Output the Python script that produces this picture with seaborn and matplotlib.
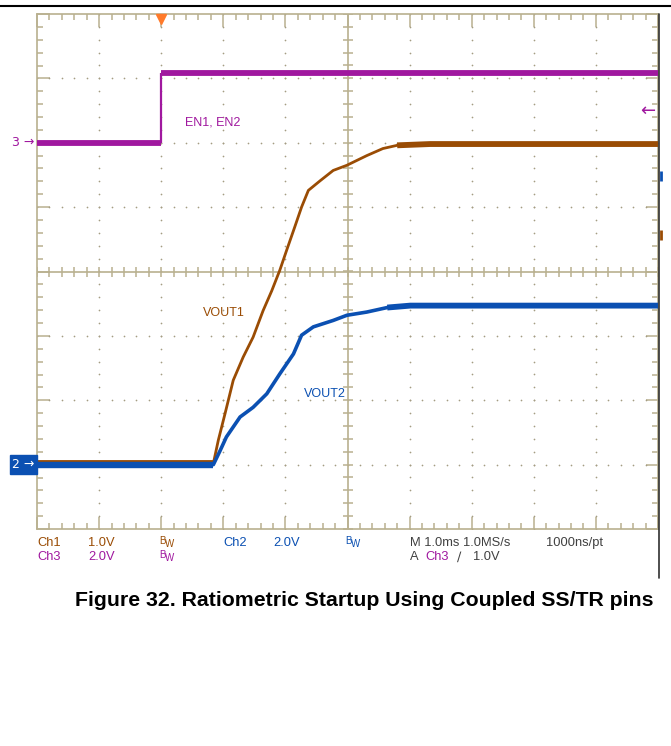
import numpy as np
import matplotlib
matplotlib.use("Agg")
import matplotlib.pyplot as plt
import seaborn as sns
from matplotlib.lines import Line2D
from matplotlib.patches import Rectangle
from matplotlib.ticker import MultipleLocator

# screen values in divisions (10 x 8 graticule, 1 ms/div)
en_time = [0.0, 2.0, 2.0, 10.0]
en_div = [2.0, 2.0, 3.08, 3.08]

vout1_time = [0.0, 2.84, 2.92, 3.03, 3.16, 3.32, 3.48, 3.64, 3.78, 3.91, 4.02,
              4.15, 4.26, 4.37, 4.56, 4.77, 4.99, 5.31, 5.57, 5.80, 6.33, 10.0]
vout1_div = [-2.98, -2.98, -2.62, -2.20, -1.69, -1.33, -1.02, -0.61, -0.30, 0.02, 0.33,
             0.69, 1.00, 1.26, 1.41, 1.57, 1.65, 1.80, 1.91, 1.96, 1.98, 1.98]

vout2_time = [0.0, 2.84, 2.95, 3.05, 3.27, 3.48, 3.70, 3.91, 4.13, 4.26, 4.45,
              4.77, 4.99, 5.31, 5.64, 6.01, 10.0]
vout2_div = [-3.0, -3.0, -2.78, -2.57, -2.26, -2.11, -1.90, -1.59, -1.28, -0.99, -0.86,
             -0.76, -0.68, -0.63, -0.56, -0.53, -0.53]

trace_labels = ["EN1, EN2", "VOUT1", "VOUT2"]
status_row1 = [("Ch1", "ch1"), ("1.0V", "ch1"), ("Ch2", "ch2"), ("2.0V", "ch2"),
               ("M 1.0ms 1.0MS/s", "gray"), ("1000ns/pt", "gray")]
caption = "Figure 32. Ratiometric Startup Using Coupled SS/TR pins"

PURPLE = "#A0189F"
BROWN = "#9A4C04"
BLUE = "#0B50B2"
TAN = "#B9B08F"
DOT = "#A49C82"
GRAY = "#404040"
colors = {"ch1": BROWN, "ch2": BLUE, "ch3": PURPLE, "gray": GRAY}

sns.set_style("white")
plt.rcParams["font.family"] = ["Liberation Sans", "DejaVu Sans"]

W, H = 671, 746
fig = plt.figure(figsize=(W / 100, H / 100), dpi=100)
ax = fig.add_axes([37 / W, 1 - 529 / H, 621 / W, 515 / H])
ax.set_xlim(0, 10)
ax.set_ylim(-4, 4)

# graticule
for s in ax.spines.values():
    s.set_color(TAN)
    s.set_linewidth(1.2)
ax.xaxis.set_major_locator(MultipleLocator(1))
ax.xaxis.set_minor_locator(MultipleLocator(0.2))
ax.yaxis.set_major_locator(MultipleLocator(1))
ax.yaxis.set_minor_locator(MultipleLocator(0.2))
ax.tick_params(which="both", direction="in", top=True, right=True, bottom=True, left=True,
               labelbottom=False, labelleft=False, color=TAN, width=1.1)
ax.tick_params(which="major", length=9)
ax.tick_params(which="minor", length=4.3)

gx = np.arange(1, 10)
gy = np.arange(-3, 4)
steps_x = np.arange(0, 10.001, 0.2)
steps_y = np.arange(-4, 4.001, 0.2)
for k in gx:
    if k != 5:
        ax.scatter(np.full_like(steps_y, k), steps_y, s=1.5, color=DOT, linewidths=0, zorder=1)
for k in gy:
    if k != 0:
        ax.scatter(steps_x, np.full_like(steps_x, k), s=1.5, color=DOT, linewidths=0, zorder=1)
ax.axhline(0, color=TAN, lw=1.2, zorder=1)
ax.axvline(5, color=TAN, lw=1.2, zorder=1)
ax.plot(steps_x, np.zeros_like(steps_x), ls="none", marker="|", ms=6.5, mew=1.1, color=TAN, zorder=1)
ax.plot(np.full_like(steps_y, 5), steps_y, ls="none", marker="_", ms=6.5, mew=1.1, color=TAN, zorder=1)


def trace(t, v, color, lw, z):
    sns.lineplot(x=t, y=v, ax=ax, color=color, linewidth=lw, sort=False,
                 estimator=None, zorder=z, solid_capstyle="butt")


# traces: thin through the ramps, thick where the noisy trace sits flat
trace(vout1_time, vout1_div, BROWN, 2.0, 3)
trace(vout1_time[-3:], vout1_div[-3:], BROWN, 4.2, 3)
trace(vout1_time[:2], vout1_div[:2], BROWN, 4.2, 3)
trace(vout2_time, vout2_div, BLUE, 2.6, 4)
trace(vout2_time[-3:], vout2_div[-3:], BLUE, 4.2, 4)
trace(vout2_time[:2], vout2_div[:2], BLUE, 4.6, 4)
trace(en_time[:2], en_div[:2], PURPLE, 4.2, 5)
trace(en_time[1:3], en_div[1:3], PURPLE, 1.6, 5)
trace(en_time[2:], en_div[2:], PURPLE, 4.2, 5)
ax.set_xlabel("")
ax.set_ylabel("")

ax.text(2.38, 2.31, trace_labels[0], color=PURPLE, fontsize=9, va="center", ha="left")
ax.text(2.67, -0.65, trace_labels[1], color=BROWN, fontsize=9, va="center", ha="left")
ax.text(4.30, -1.91, trace_labels[2], color=BLUE, fontsize=9, va="center", ha="left")

# scope markers
ax.plot([2.0], [3.93], marker="v", ms=7, color="#FF7A2A", mec="#FF7A2A", ls="none",
        clip_on=False, zorder=6)
ax.text(9.84, 2.5, "\u2190", color=PURPLE, fontsize=13, va="center", ha="center",
        family="DejaVu Sans", zorder=6)
ax.text(-0.04, en_div[0], "3 \u2192", color=PURPLE, fontsize=9, va="center", ha="right",
        family="DejaVu Sans", clip_on=False)
ax.add_patch(Rectangle((-0.435, -3.15), 0.435, 0.30, color=BLUE, clip_on=False, zorder=6))
ax.text(-0.22, -3.0, "2 \u2192", color="white", fontsize=9, va="center", ha="center",
        family="DejaVu Sans", clip_on=False, zorder=7)
ax.plot([10.05], [1.49], marker="|", ms=7, mew=2, color=BLUE, clip_on=False)
ax.plot([10.05], [0.56], marker="|", ms=7, mew=2, color=BROWN, clip_on=False)

# frame lines of the page
fig.add_artist(Line2D([0, 1], [1 - 6 / H] * 2, color="black", lw=1.5))
fig.add_artist(Line2D([659 / W] * 2, [1 - 14 / H, 1 - 578 / H], color="#303030", lw=1.2))


def put(x, y, s, c, size=9.3, **kw):
    fig.text(x / W, 1 - y / H, s, color=c, fontsize=size, va="center", ha="left", **kw)


def bw(x, y, c):
    put(x, y - 2, "B", c, size=7)
    put(x + 6, y + 1, "W", c, size=7)


# status bar
row1_x = [37, 88, 223, 273, 410, 546]
for (s, key), x in zip(status_row1, row1_x):
    put(x, 543, s, colors[key])
bw(159, 543, BROWN)
bw(345, 543, BLUE)
put(37, 557, "Ch3", PURPLE)
put(88, 557, "2.0V", PURPLE)
bw(159, 557, PURPLE)
put(410, 557, "A", GRAY)
put(425, 557, "Ch3", PURPLE)
put(457, 557, "\u2215", GRAY, family="DejaVu Sans")
put(473, 557, "1.0V", GRAY)

fig.text(75 / W, 1 - 600 / H, caption, fontsize=15.3, fontweight="bold", color="black",
         va="center", ha="left")

fig.savefig("out.png", dpi=100)
